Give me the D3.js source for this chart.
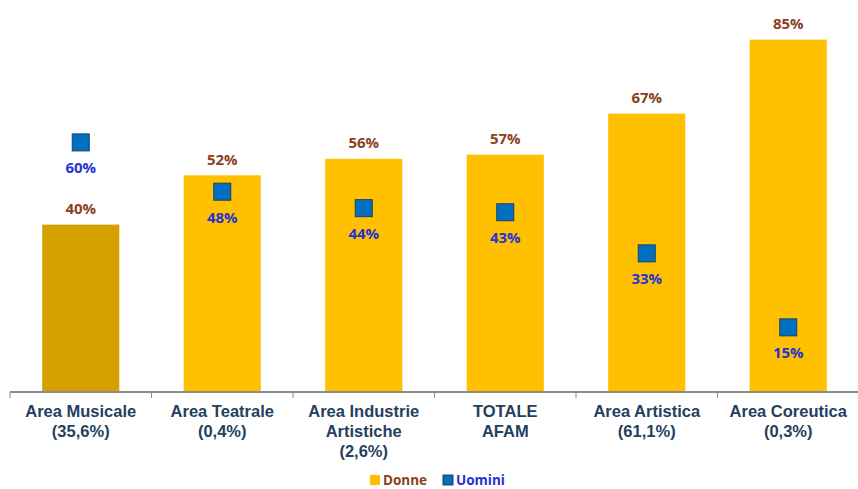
<!DOCTYPE html>
<html>
<head>
<meta charset="utf-8">
<script src="https://cdn.jsdelivr.net/npm/d3@7"></script>
<style>
  body { margin: 0; background: #fff; }
  .catLabel { font-family: "Liberation Sans", Arial, sans-serif; font-weight: bold; font-size: 16.5px; fill: #243F60; }
  .valLabel { font-family: "Open Sans", Verdana, sans-serif; font-weight: bold; font-size: 15px; }
  .legendText { font-family: "Open Sans", Verdana, sans-serif; font-weight: bold; font-size: 13.5px; }
</style>
</head>
<body>
<div id="chart"></div>
<script>
var width = 858, height = 489;

// data
var categories = ["Area Musicale|(35,6%)", "Area Teatrale|(0,4%)", "Area Industrie|Artistiche|(2,6%)",
                  "TOTALE|AFAM", "Area Artistica|(61,1%)", "Area Coreutica|(0,3%)"];
var donne = [40, 52, 56, 57, 67, 85];
var uomini = [60, 48, 44, 43, 33, 15];
var seriesNames = ["Donne", "Uomini"];

var svg = d3.select("#chart").append("svg")
    .attr("width", width)
    .attr("height", height);

var x = d3.scaleBand()
    .domain(categories)
    .range([10, 859])
    .paddingInner(0.455)
    .paddingOuter(0.2275);

var y = d3.scaleLinear()
    .domain([0, 100])
    .range([389, -22]);

var axisY = 392;

// bars
svg.selectAll("rect.bar")
    .data(donne)
    .enter()
    .append("rect")
    .attr("class", "bar")
    .attr("x", (d, i) => x(categories[i]))
    .attr("width", x.bandwidth())
    .attr("y", d => y(d))
    .attr("height", d => axisY - y(d))
    .style("fill", (d, i) => i == 0 ? "#D4A100" : "#FFC000");

// donne labels
svg.selectAll("text.donneLabel")
    .data(donne)
    .enter()
    .append("text")
    .attr("class", "valLabel donneLabel")
    .attr("x", (d, i) => x(categories[i]) + x.bandwidth() / 2)
    .attr("y", d => y(d) - 10.5)
    .style("text-anchor", "middle")
    .style("fill", "#8B3F1C")
    .text(d => d + "%");

// uomini markers
var ms = 17;
svg.selectAll("rect.marker")
    .data(uomini)
    .enter()
    .append("rect")
    .attr("class", "marker")
    .attr("x", (d, i) => x(categories[i]) + x.bandwidth() / 2 - ms / 2)
    .attr("y", d => y(d) - ms / 2)
    .attr("width", ms)
    .attr("height", ms)
    .style("fill", "#0070C0")
    .style("stroke", "#1F3F66")
    .style("stroke-width", 1);

svg.selectAll("text.uominiLabel")
    .data(uomini)
    .enter()
    .append("text")
    .attr("class", "valLabel uominiLabel")
    .attr("x", (d, i) => x(categories[i]) + x.bandwidth() / 2)
    .attr("y", d => y(d) + 31)
    .style("text-anchor", "middle")
    .style("fill", "#2433D1")
    .text(d => d + "%");

// x axis
var xAxis = d3.axisBottom(x).tickSize(0).tickFormat("");
var gx = svg.append("g")
    .attr("transform", `translate(0, ${axisY})`)
    .call(xAxis);
gx.select(".domain").attr("stroke", "#8C8C8C").attr("stroke-width", 2).attr("d", "M10,0H859");

var step = x.step();
var bounds = d3.range(categories.length + 1).map(i => 10 + i * step);
gx.selectAll("line.sep")
    .data(bounds)
    .enter()
    .append("line")
    .attr("class", "sep")
    .attr("x1", d => d).attr("x2", d => d)
    .attr("y1", 0).attr("y2", 6)
    .attr("stroke", "#8C8C8C")
    .attr("stroke-width", 1);

// category labels
var catText = svg.selectAll("text.catLabel")
    .data(categories)
    .enter()
    .append("text")
    .attr("class", "catLabel")
    .attr("x", d => x(d) + x.bandwidth() / 2)
    .attr("y", 417)
    .style("text-anchor", "middle");

catText.selectAll("tspan")
    .data(d => d.split("|"))
    .enter()
    .append("tspan")
    .attr("x", function() { return this.parentNode.getAttribute("x"); })
    .attr("dy", (d, i) => i == 0 ? 0 : 20)
    .text(d => d);

// legend
var legend = svg.append("g");
var legendItems = [
    { name: seriesNames[0], x: 370, fill: "#FFC000", stroke: "none", color: "#8B3F1C" },
    { name: seriesNames[1], x: 443, fill: "#0070C0", stroke: "#1F3F66", color: "#2433D1" }
];
legendItems.forEach(function(d) {
    legend.append("rect")
        .attr("x", d.x).attr("y", 475)
        .attr("width", 10).attr("height", 10)
        .style("fill", d.fill)
        .style("stroke", d.stroke);
    legend.append("text")
        .attr("class", "legendText")
        .attr("x", d.x + 13)
        .attr("y", 485)
        .style("fill", d.color)
        .text(d.name);
});
</script>
</body>
</html>
